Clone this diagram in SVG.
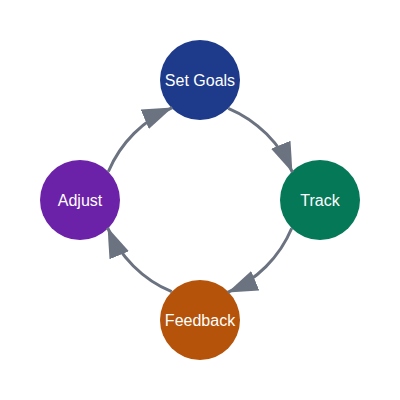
<svg xmlns="http://www.w3.org/2000/svg" width="400" height="400" viewBox="0 0 400 400">
  <style>
    .node-label { font-family: "Liberation Sans", Arial, Helvetica, sans-serif; font-size: 16px; fill: #ffffff; text-anchor: middle; }
    .edge { fill: none; stroke: #6b7280; stroke-width: 3; marker-end: url(#arrow); }
  </style>
  <defs>
    <marker id="arrow" markerWidth="10" markerHeight="7" refX="10" refY="3.5" orient="auto" markerUnits="strokeWidth">
      <path d="M0,0 L10,3.5 L0,7 Z" fill="#6b7280"/>
    </marker>
  </defs>
  <rect width="400" height="400" fill="#ffffff"/>
  <g id="node-set-goals">
    <circle cx="200" cy="80" r="40" fill="#1e3a8a"/>
    <text class="node-label" x="200" y="85.5">Set Goals</text>
  </g>
  <g id="node-track">
    <circle cx="320" cy="200" r="40" fill="#047857"/>
    <text class="node-label" x="320" y="205.5">Track</text>
  </g>
  <g id="node-feedback">
    <circle cx="200" cy="320" r="40" fill="#b45309"/>
    <text class="node-label" x="200" y="325.5">Feedback</text>
  </g>
  <g id="node-adjust">
    <circle cx="80" cy="200" r="40" fill="#6b21a8"/>
    <text class="node-label" x="80" y="205.5">Adjust</text>
  </g>
  <g id="connectors">
    <path class="edge" d="M228.28,108.28 A120,120 0 0 1 292.42,172.42"/>
    <path class="edge" d="M291.72,228.28 A120,120 0 0 1 227.58,292.42"/>
    <path class="edge" d="M171.72,291.72 A120,120 0 0 1 107.58,227.58"/>
    <path class="edge" d="M108.28,171.72 A120,120 0 0 1 172.42,107.58"/>
  </g>
</svg>
